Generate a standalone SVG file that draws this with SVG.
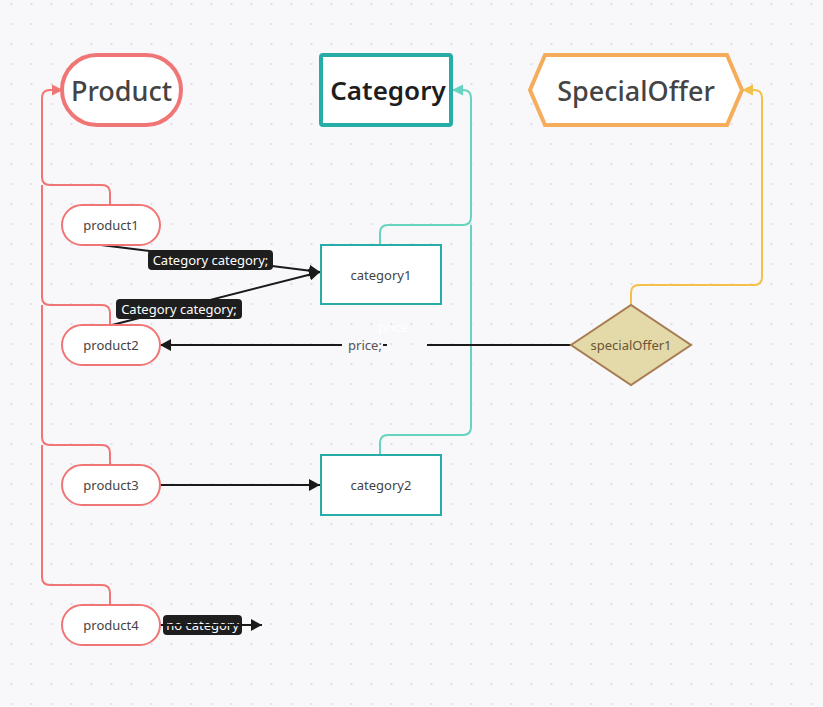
<svg xmlns="http://www.w3.org/2000/svg" width="823" height="707" viewBox="0 0 823 707">
<defs>
<pattern id="dots" x="1.5" y="4" width="20" height="20" patternUnits="userSpaceOnUse">
<circle cx="10" cy="0" r="1.1" fill="#d8d8e2"/><circle cx="10" cy="20" r="1.1" fill="#d8d8e2"/>
</pattern>
<marker id="ab" markerWidth="12" markerHeight="12" refX="11" refY="6" orient="auto" markerUnits="userSpaceOnUse"><path d="M0,0 L11,6 L0,12 Z" fill="#1a1a1a"/></marker>
<marker id="ap" markerWidth="12" markerHeight="12" refX="11" refY="6" orient="auto" markerUnits="userSpaceOnUse"><path d="M0,0.5 L11,6 L0,11.5 Z" fill="#f07575"/></marker>
<marker id="at" markerWidth="12" markerHeight="12" refX="11" refY="6" orient="auto" markerUnits="userSpaceOnUse"><path d="M0,0.5 L11,6 L0,11.5 Z" fill="#66d4bf"/></marker>
<marker id="ay" markerWidth="12" markerHeight="12" refX="11" refY="6" orient="auto" markerUnits="userSpaceOnUse"><path d="M0,0.5 L11,6 L0,11.5 Z" fill="#f5c04a"/></marker>
</defs>
<style>
text{font-family:"Noto Sans","Open Sans","Liberation Sans",sans-serif;}
.title{font-size:27px;font-weight:500;text-anchor:middle;dominant-baseline:central;}
.nt{font-size:13px;fill:#444;text-anchor:middle;dominant-baseline:central;}
.lbl{font-size:13px;fill:#fff;text-anchor:middle;dominant-baseline:central;}
.pill{fill:#fff;stroke:#f07575;stroke-width:2;}
.cat{fill:#fff;stroke:#26ada8;stroke-width:2;}
.pc{fill:none;stroke:#f07575;stroke-width:2;}
.tc{fill:none;stroke:#66d4bf;stroke-width:2;}
.yc{fill:none;stroke:#f5c04a;stroke-width:2;}
.bl{fill:none;stroke:#1a1a1a;stroke-width:2;}
.lb{fill:#1e1e1e;}
</style>
<rect width="823" height="707" fill="#f8f8fb"/>
<rect width="823" height="707" fill="url(#dots)"/>

<g id="connectors">
<path class="pc" d="M110,205 V193 Q110,185 102,185 H50 Q42,185 42,177 V98 Q42,90 50,90 H63" marker-end="url(#ap)"/>
<path class="pc" d="M110,325 V313 Q110,305 102,305 H50 Q42,305 42,297 V185"/>
<path class="pc" d="M110,465 V453 Q110,445 102,445 H50 Q42,445 42,437 V305"/>
<path class="pc" d="M110,605 V593 Q110,585 102,585 H50 Q42,585 42,577 V445"/>
<path class="tc" d="M380,245 V233 Q380,225 388,225 H463 Q471,225 471,217 V98 Q471,90 463,90 H452" marker-end="url(#at)"/>
<path class="tc" d="M380,455 V443 Q380,435 388,435 H463 Q471,435 471,427 V225"/>
<path class="yc" d="M631,305 V293 Q631,285 639,285 H754 Q762,285 762,277 V98 Q762,90 754,90 H742" marker-end="url(#ay)"/>

<line class="bl" x1="101" y1="245" x2="320" y2="272" marker-end="url(#ab)"/>
<rect class="lb" x="148" y="250" width="125" height="20" rx="4"/>
<text class="lbl" x="210.5" y="260">Category category;</text>
<line class="bl" x1="112" y1="325" x2="320" y2="272" marker-end="url(#ab)"/>
<rect class="lb" x="116" y="299" width="126" height="20" rx="4"/>
<text class="lbl" x="179" y="309">Category category;</text>

<line class="bl" x1="571" y1="345" x2="427" y2="345"/>
<line class="bl" x1="342" y1="345" x2="160" y2="345" marker-end="url(#ab)"/>
<line class="bl" x1="383" y1="345" x2="387" y2="345"/>
<text x="365" y="345" style="font-size:13px;fill:#555;text-anchor:middle;dominant-baseline:central;">price;</text>
<text x="393" y="327" style="font-size:13px;fill:#ffffff;text-anchor:middle;dominant-baseline:central;">price</text>

<line class="bl" x1="160" y1="485" x2="320" y2="485" marker-end="url(#ab)"/>

<rect class="lb" x="163" y="615" width="79" height="20" rx="4"/>
<text class="lbl" x="202.5" y="625">no category</text>
<line class="bl" x1="160" y1="625" x2="262" y2="625" marker-end="url(#ab)"/>
</g>

<g id="Product">
<rect x="62" y="55" width="119" height="70" rx="35" fill="#fff" stroke="#f07575" stroke-width="4"/>
<text class="title" x="121.5" y="90" fill="#444">Product</text>
</g>
<g id="Category">
<rect x="321" y="55" width="130" height="70" rx="2" fill="#fff" stroke="#26ada8" stroke-width="4"/>
<text class="title" x="388" y="90" fill="#1e1e1e" style="font-weight:600;font-size:26px">Category</text>
</g>
<g id="SpecialOffer">
<polygon points="530,90 545,55 727,55 742,90 727,125 545,125" fill="#fff" stroke="#f5ad5b" stroke-width="4"/>
<text class="title" x="636" y="90" fill="#444">SpecialOffer</text>
</g>

<g id="product1"><rect class="pill" x="62" y="205" width="98" height="40" rx="20"/><text class="nt" x="111" y="225">product1</text></g>
<g id="product2"><rect class="pill" x="62" y="325" width="98" height="40" rx="20"/><text class="nt" x="111" y="345">product2</text></g>
<g id="product3"><rect class="pill" x="62" y="465" width="98" height="40" rx="20"/><text class="nt" x="111" y="485">product3</text></g>
<g id="product4"><rect class="pill" x="62" y="605" width="98" height="40" rx="20"/><text class="nt" x="111" y="625">product4</text></g>
<g id="category1"><rect class="cat" x="321" y="245" width="120" height="59"/><text class="nt" x="381" y="275" fill="#333">category1</text></g>
<g id="category2"><rect class="cat" x="321" y="455" width="120" height="60"/><text class="nt" x="381" y="485">category2</text></g>
<g id="specialOffer1">
<polygon points="571,345 631,305 691,345 631,385" fill="#e3d9a9" stroke="#a87c50" stroke-width="2"/>
<text x="631" y="345" style="font-size:13px;fill:#6b5535;text-anchor:middle;dominant-baseline:central;">specialOffer1</text>
</g>
</svg>
